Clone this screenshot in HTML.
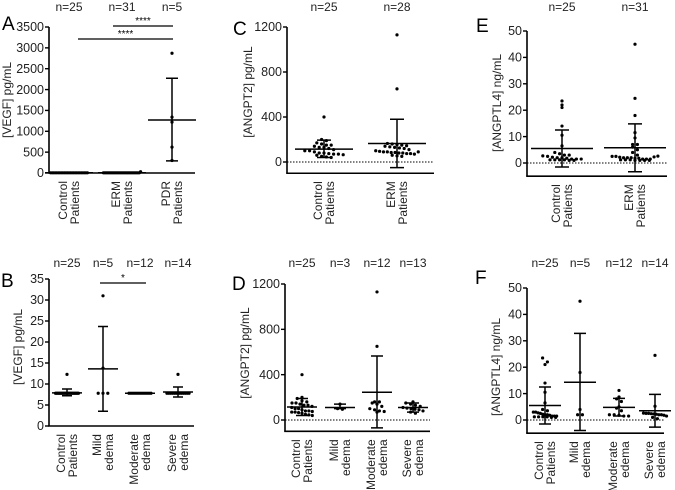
<!DOCTYPE html>
<html><head><meta charset="utf-8"><style>
html,body{margin:0;padding:0;background:#fff;}
svg{display:block;font-family:"Liberation Sans",Arial,sans-serif;}
</style></head><body>
<svg id="fig" width="675" height="490" viewBox="0 0 675 490" xmlns="http://www.w3.org/2000/svg"></svg>
<script>
// ---- Panel A: VEGF ----
const catsA = [["Control","Patients"],["ERM","Patients"],["PDR","Patients"]];
const nA = ["n=25","n=31","n=5"];
const valsA = [
  [5,5,5,5,5,5,5,5,5,5,5,5,5,5,5,5,5,5,5,5,5,5,5,5,5],
  [5,5,5,5,5,5,5,5,5,5,5,5,5,5,5,5,5,5,5,5,5,5,5,5,5,5,5,5,5,5,30],
  [2870,1340,1220,620,300]];
const meanA = [5,5,1270];
const sdLoA = [5,5,290];
const sdHiA = [5,5,2270];
const ticksA = [0,500,1000,1500,2000,2500,3000,3500];
// ---- Panel B: VEGF by edema ----
const catsB = [["Control","Patients"],["Mild","edema"],["Moderate","edema"],["Severe","edema"]];
const nB = ["n=25","n=5","n=12","n=14"];
const valsB = [
  [12.3,7.8,7.8,7.8,7.8,7.8,7.8,7.8,7.8,7.8,7.8,7.8,7.8,7.8,7.8,7.8,7.8,7.8,7.8,7.8,7.8,7.8,7.8,7.8,7.8],
  [31,13.8,7.8,7.8,7.8],
  [7.8,7.8,7.8,7.8,7.8,7.8,7.8,7.8,7.8,7.8,7.8,7.8],
  [12.3,7.8,7.8,7.8,7.8,7.8,7.8,7.8,7.8,7.8,7.8,7.8,7.8,7.8]];
const meanB = [7.9,13.6,7.8,8.1];
const sdLoB = [7.2,3.5,7.8,6.9];
const sdHiB = [8.8,23.7,7.8,9.3];
const ticksB = [0,5,10,15,20,25,30,35];
// ---- Panel C: ANGPT2 ----
const catsC = [["Control","Patients"],["ERM","Patients"]];
const nC = ["n=25","n=28"];
const valsC = [
  [400,200,190,170,160,150,150,140,130,130,120,110,100,100,90,80,80,75,70,70,65,60,50,45,40],
  [1130,650,165,160,155,150,145,140,135,130,125,120,110,100,95,90,90,85,85,80,80,75,75,70,60,55,50,90]];
const meanC = [115,165];
const sdLoC = [40,-50];
const sdHiC = [195,380];
const ticksC = [0,400,800,1200];
// ---- Panel D: ANGPT2 by edema ----
const catsD = catsB;
const nD = ["n=25","n=3","n=12","n=13"];
const valsD = [
  valsC[0],
  [140,100,95],
  [1130,650,160,150,140,120,100,90,80,75,70,160],
  [160,150,140,130,120,110,105,100,95,90,80,70,60]];
const meanD = [115,110,245,110];
const sdLoD = [40,100,-70,70];
const sdHiD = [190,140,565,150];
const ticksD = ticksC;
// ---- Panel E: ANGPTL4 ----
const catsE = catsC;
const nE = ["n=25","n=31"];
const valsE = [
  [23.5,22,21,14,10.5,6.5,4,3.5,3,3,2.7,2.5,2.2,2,2,1.8,1.5,1.5,1.5,1.2,1.2,1.2,1.2,1,1],
  [45,24.5,18,11.5,9.5,7,7,6,5,4,3,2.5,2.5,2.2,2,2,2,1.8,1.8,1.5,1.5,1.5,1.2,1.2,1.2,1,1,1,1,2.3,2.6]];
const meanE = [5.5,5.8];
const sdLoE = [-1.5,-3.3];
const sdHiE = [12.5,14.8];
const ticksE = [0,10,20,30,40,50];
// ---- Panel F: ANGPTL4 by edema ----
const catsF = catsB;
const nF = ["n=25","n=5","n=12","n=14"];
const valsF = [
  valsE[0],
  [45,18,4,2,2],
  [11.2,8.7,8,7,5,4.5,3.5,2,2,1.8,1.5,1.5],
  [24.5,5.2,2.6,2.5,2.5,2.4,2.3,2.2,2,2,1.8,1.5,1,0.5]];
const meanF = [5.5,14.3,4.8,3.5];
const sdLoF = [-1.5,-4,1.5,-2.7];
const sdHiF = [12.5,32.8,8.2,9.7];
const ticksF = ticksE;

const NS = "http://www.w3.org/2000/svg";
const svg = document.getElementById("fig");
function mk(tag, attrs, parent){
  const e = document.createElementNS(NS, tag);
  for (const k in attrs) e.setAttribute(k, attrs[k]);
  (parent||svg).appendChild(e);
  return e;
}

function panel(P){
  const g = mk("g", {});
  
  
  const yScale = v => P.y0 + (v/P.vTop)*(P.yTop - P.y0);
  const yBot = yScale(P.vMin);
  const L = mk("text", {x:P.lx, y:P.ly, "font-size":19, fill:"#000"}, g);
  L.textContent = P.id;
  
  
  const ya = mk("line", {x1:P.ax, y1:P.yTop, x2:P.ax, y2:yBot, stroke:"#000","stroke-width":1.6}, g);
  
  
  const xa = mk("line", {x1:P.ax-0.8, y1:yBot, x2:P.x2, y2:yBot, stroke:"#000","stroke-width":1.6}, g);
  
  
  if (P.vMin < 0){
    const z = mk("line", {x1:P.ax, y1:yScale(0), x2:P.x2, y2:yScale(0), stroke:"#000","stroke-width":1,"stroke-dasharray":"1.5,1.5"}, g);
    
    
  }
  P.ticks.forEach(t => {
    const y = yScale(t);
    mk("line", {x1:P.ax-4, y1:y, x2:P.ax, y2:y, stroke:"#000","stroke-width":1.4}, g);
    const tl = mk("text", {x:P.ax-5, y:y+4.2, "font-size":12.5, "text-anchor":"end", fill:"#222"}, g);
    tl.textContent = t;
    
    
  });
  const yt = mk("text", {x:0, y:0, "font-size":12, "text-anchor":"middle", fill:"#222",
      transform:`translate(${P.tx},${P.ty}) rotate(-90)`}, g);
  yt.textContent = P.title;
  
  
  P.cx.forEach((cx, i) => {
    const nl = mk("text", {x:cx, y:P.ny, "font-size":12, "text-anchor":"middle", fill:"#222"}, g);
    nl.textContent = P.n[i];
    
    
    P.cats[i].forEach((s, j) => {
      const cl = mk("text", {x:0, y:0, "font-size":12, "text-anchor":"end", fill:"#222",
        transform:`translate(${cx - 2 + j*12},${yBot + 8}) rotate(-90)`}, g);
      cl.textContent = s;
      
      
    });
    const bins = {};
    P.vals[i].forEach(v => {
      const py = yScale(v);
      const k = Math.round(py/4.5);
      (bins[k] = bins[k] || []).push(py);
    });
    Object.keys(bins).forEach(k => {
      const arr = bins[k];
      const sp = Math.min(4.8, (P.mh*1.6)/arr.length);
      arr.forEach((py, j) => {
        const dx = (j - (arr.length-1)/2) * sp;
        const c = mk("circle", {cx:cx+dx, cy:py, r:1.6, fill:"#000"}, g);
        
        
      });
    });
    const ym = yScale(P.mean[i]);
    const ml = mk("line", {x1:cx-P.mh, y1:ym, x2:cx+P.mh, y2:ym, stroke:"#000","stroke-width":1.5}, g);
    
    
    const lo = yScale(P.lo[i]), hi = yScale(P.hi[i]);
    if (Math.abs(lo-hi) > 1){
      const eb = mk("path", {d:`M${cx},${lo}V${hi}M${cx-P.ch},${lo}H${cx+P.ch}M${cx-P.ch},${hi}H${cx+P.ch}`,
        stroke:"#000","stroke-width":1.5, fill:"none"}, g);
      
      
    }
  });
  (P.sig||[]).forEach(s => {
    const sl = mk("line", {x1:s[0], y1:s[2], x2:s[1], y2:s[2], stroke:"#000","stroke-width":1.3}, g);
    
    
    const st = mk("text", {x:(s[0]+s[1])/2, y:s[2]-2, "font-size":10, "text-anchor":"middle", fill:"#000"}, g);
    st.textContent = s[3];
    
    
  });
}

panel({id:"A", lx:2, ly:30, ax:49, x2:195, y0:173, yTop:27, vTop:3500, vMin:0, cx:[69,122,172],
  cats:catsA, n:nA, vals:valsA, mean:meanA, lo:sdLoA, hi:sdHiA, ticks:ticksA, ny:11,
  title:"[VEGF] pg/mL", tx:11, ty:100, mh:24, ch:6,
  sig:[[113,173,26,"****"],[78,173,39,"****"]]});
panel({id:"B", lx:1, ly:287, ax:49, x2:194, y0:426, yTop:279, vTop:35, vMin:0, cx:[67,103,140,178],
  cats:catsB, n:nB, vals:valsB, mean:meanB, lo:sdLoB, hi:sdHiB, ticks:ticksB, ny:267,
  title:"[VEGF] pg/mL", tx:22, ty:347, mh:15, ch:5,
  sig:[[100,146,283,"*"]]});
panel({id:"C", lx:233, ly:35, ax:287, x2:434, y0:162, yTop:27, vTop:1200, vMin:-100, cx:[324,397],
  cats:catsC, n:nC, vals:valsC, mean:meanC, lo:sdLoC, hi:sdHiC, ticks:ticksC, ny:11,
  title:"[ANGPT2] pg/mL", tx:252, ty:92, mh:29, ch:7});
panel({id:"D", lx:232, ly:290, ax:285, x2:430, y0:420, yTop:284, vTop:1200, vMin:-100, cx:[302,340,377,413],
  cats:catsD, n:nD, vals:valsD, mean:meanD, lo:sdLoD, hi:sdHiD, ticks:ticksD, ny:267,
  title:"[ANGPT2] pg/mL", tx:249, ty:353, mh:15, ch:6});
panel({id:"E", lx:476, ly:32, ax:527, x2:667, y0:163, yTop:31, vTop:50, vMin:-5, cx:[562,635],
  cats:catsE, n:nE, vals:valsE, mean:meanE, lo:sdLoE, hi:sdHiE, ticks:ticksE, ny:11,
  title:"[ANGPTL4] ng/mL", tx:501, ty:103, mh:31, ch:7});
panel({id:"F", lx:475, ly:284, ax:527, x2:664, y0:420, yTop:288, vTop:50, vMin:-5, cx:[545,580,619,655],
  cats:catsF, n:nF, vals:valsF, mean:meanF, lo:sdLoF, hi:sdHiF, ticks:ticksF, ny:267,
  title:"[ANGPTL4] ng/mL", tx:500, ty:367, mh:16, ch:6});
</script>
</body></html>
